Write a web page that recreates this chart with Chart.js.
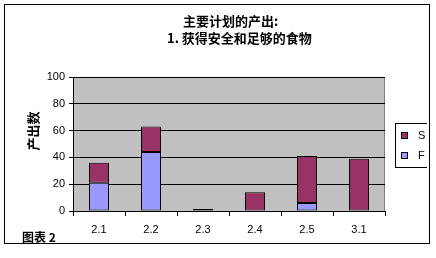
<!DOCTYPE html>
<html>
<head>
<meta charset="utf-8">
<script src="https://cdn.jsdelivr.net/npm/chart.js@4/dist/chart.umd.min.js"></script>
<style>
  html, body { margin: 0; padding: 0; background: #fff; }
  #wrap { width: 436px; height: 258px; }
</style>
</head>
<body>
<div id="wrap"><canvas id="chart" width="436" height="258"></canvas></div>
<script>
// ====================== Data ======================
const categories = ['2.1', '2.2', '2.3', '2.4', '2.5', '3.1'];
const seriesF = [21, 44, 0, 0, 6, 0];      // blauw, onderste deel
const seriesS = [15, 19, 1.5, 14, 35, 39]; // paars, bovenste deel
const yTicks = [0, 20, 40, 60, 80, 100];
const titleLines = ['主要计划的产出:', '1. 获得安全和足够的食物'];
const yTitle = '产出数';
const footText = '图表 2';

const CJK = '"Noto Sans CJK SC", sans-serif';
const LAT = '"Liberation Sans", Arial, sans-serif';

// ====================== Plugins ======================
const frame = {
  id: 'frame',
  beforeDraw(chart) {
    const c = chart.ctx, a = chart.chartArea;
    c.save();
    c.fillStyle = '#fff';
    c.fillRect(0, 0, chart.width, chart.height);
    c.strokeStyle = '#000';
    c.lineWidth = 1;
    c.strokeRect(4.5, 4.5, 425, 239);
    // grijze plot area
    c.fillStyle = '#c0c0c0';
    c.fillRect(a.left, a.top, a.right - a.left, a.bottom - a.top);
    c.strokeStyle = '#808080';
    c.beginPath();
    c.moveTo(a.right - 0.5, a.top);
    c.lineTo(a.right - 0.5, a.bottom);
    c.stroke();
    c.restore();
  },
  afterDraw(chart) {
    const c = chart.ctx;
    c.save();
    c.fillStyle = '#000';
    c.textBaseline = 'middle';
    c.textAlign = 'left';
    c.font = 'bold 13px ' + CJK;
    c.fillText(titleLines[0], 183, 21);
    c.fillText(titleLines[1], 167, 38);

    c.font = 'bold 12px ' + CJK;
    c.fillText(footText, 22, 237);

    c.save();
    c.translate(33, 131);
    c.rotate(-Math.PI / 2);
    c.textAlign = 'center';
    c.font = 'bold 13px ' + CJK;
    c.fillText(yTitle, 0, 0);
    c.restore();

    // legenda (rechts afgesneden zoals in het origineel)
    c.beginPath();
    c.rect(0, 0, 427, chart.height);
    c.clip();
    c.strokeStyle = '#000';
    c.lineWidth = 1;
    c.strokeRect(395.5, 123.5, 60, 44);
    const items = chart.data.datasets.slice().reverse();
    items.forEach((ds, i) => {
      const y = 132.5 + i * 20;
      c.fillStyle = ds.backgroundColor;
      c.fillRect(401.5, y, 6, 6);
      c.strokeRect(401.5, y, 6, 6);
      c.fillStyle = '#000';
      c.font = '11px ' + LAT;
      c.fillText(ds.label, 418, y + 3.5);
    });
    c.restore();
  }
};

// ====================== Chart ======================
new Chart(document.getElementById('chart'), {
  type: 'bar',
  data: {
    labels: categories,
    datasets: [
      { label: 'F', data: seriesF, backgroundColor: '#9999ff', borderColor: '#000', borderWidth: 1, borderSkipped: false },
      { label: 'S', data: seriesS, backgroundColor: '#993366', borderColor: '#000', borderWidth: 1, borderSkipped: false }
    ]
  },
  options: {
    responsive: false,
    devicePixelRatio: 1,
    animation: false,
    layout: { padding: { left: 33, right: 51, top: 77, bottom: 17 } },
    datasets: { bar: { barPercentage: 20 / 52, categoryPercentage: 1 } },
    plugins: { legend: { display: false }, title: { display: false }, tooltip: { enabled: false } },
    scales: {
      x: {
        stacked: true,
        afterFit(s) { s.height = 30; },
        grid: { drawOnChartArea: false, color: '#000', tickLength: 5, offset: true },
        border: { color: '#000' },
        ticks: { color: '#000', font: { family: LAT, size: 11 }, padding: 7 }
      },
      y: {
        stacked: true,
        min: 0,
        max: 100,
        afterFit(s) { s.width = 40; },
        afterBuildTicks(s) { s.ticks = yTicks.map(v => ({ value: v })); },
        grid: { color: '#000', tickLength: 4 },
        border: { color: '#000' },
        ticks: { color: '#000', font: { family: LAT, size: 11 }, padding: 4 }
      }
    }
  },
  plugins: [frame]
});
</script>
</body>
</html>
